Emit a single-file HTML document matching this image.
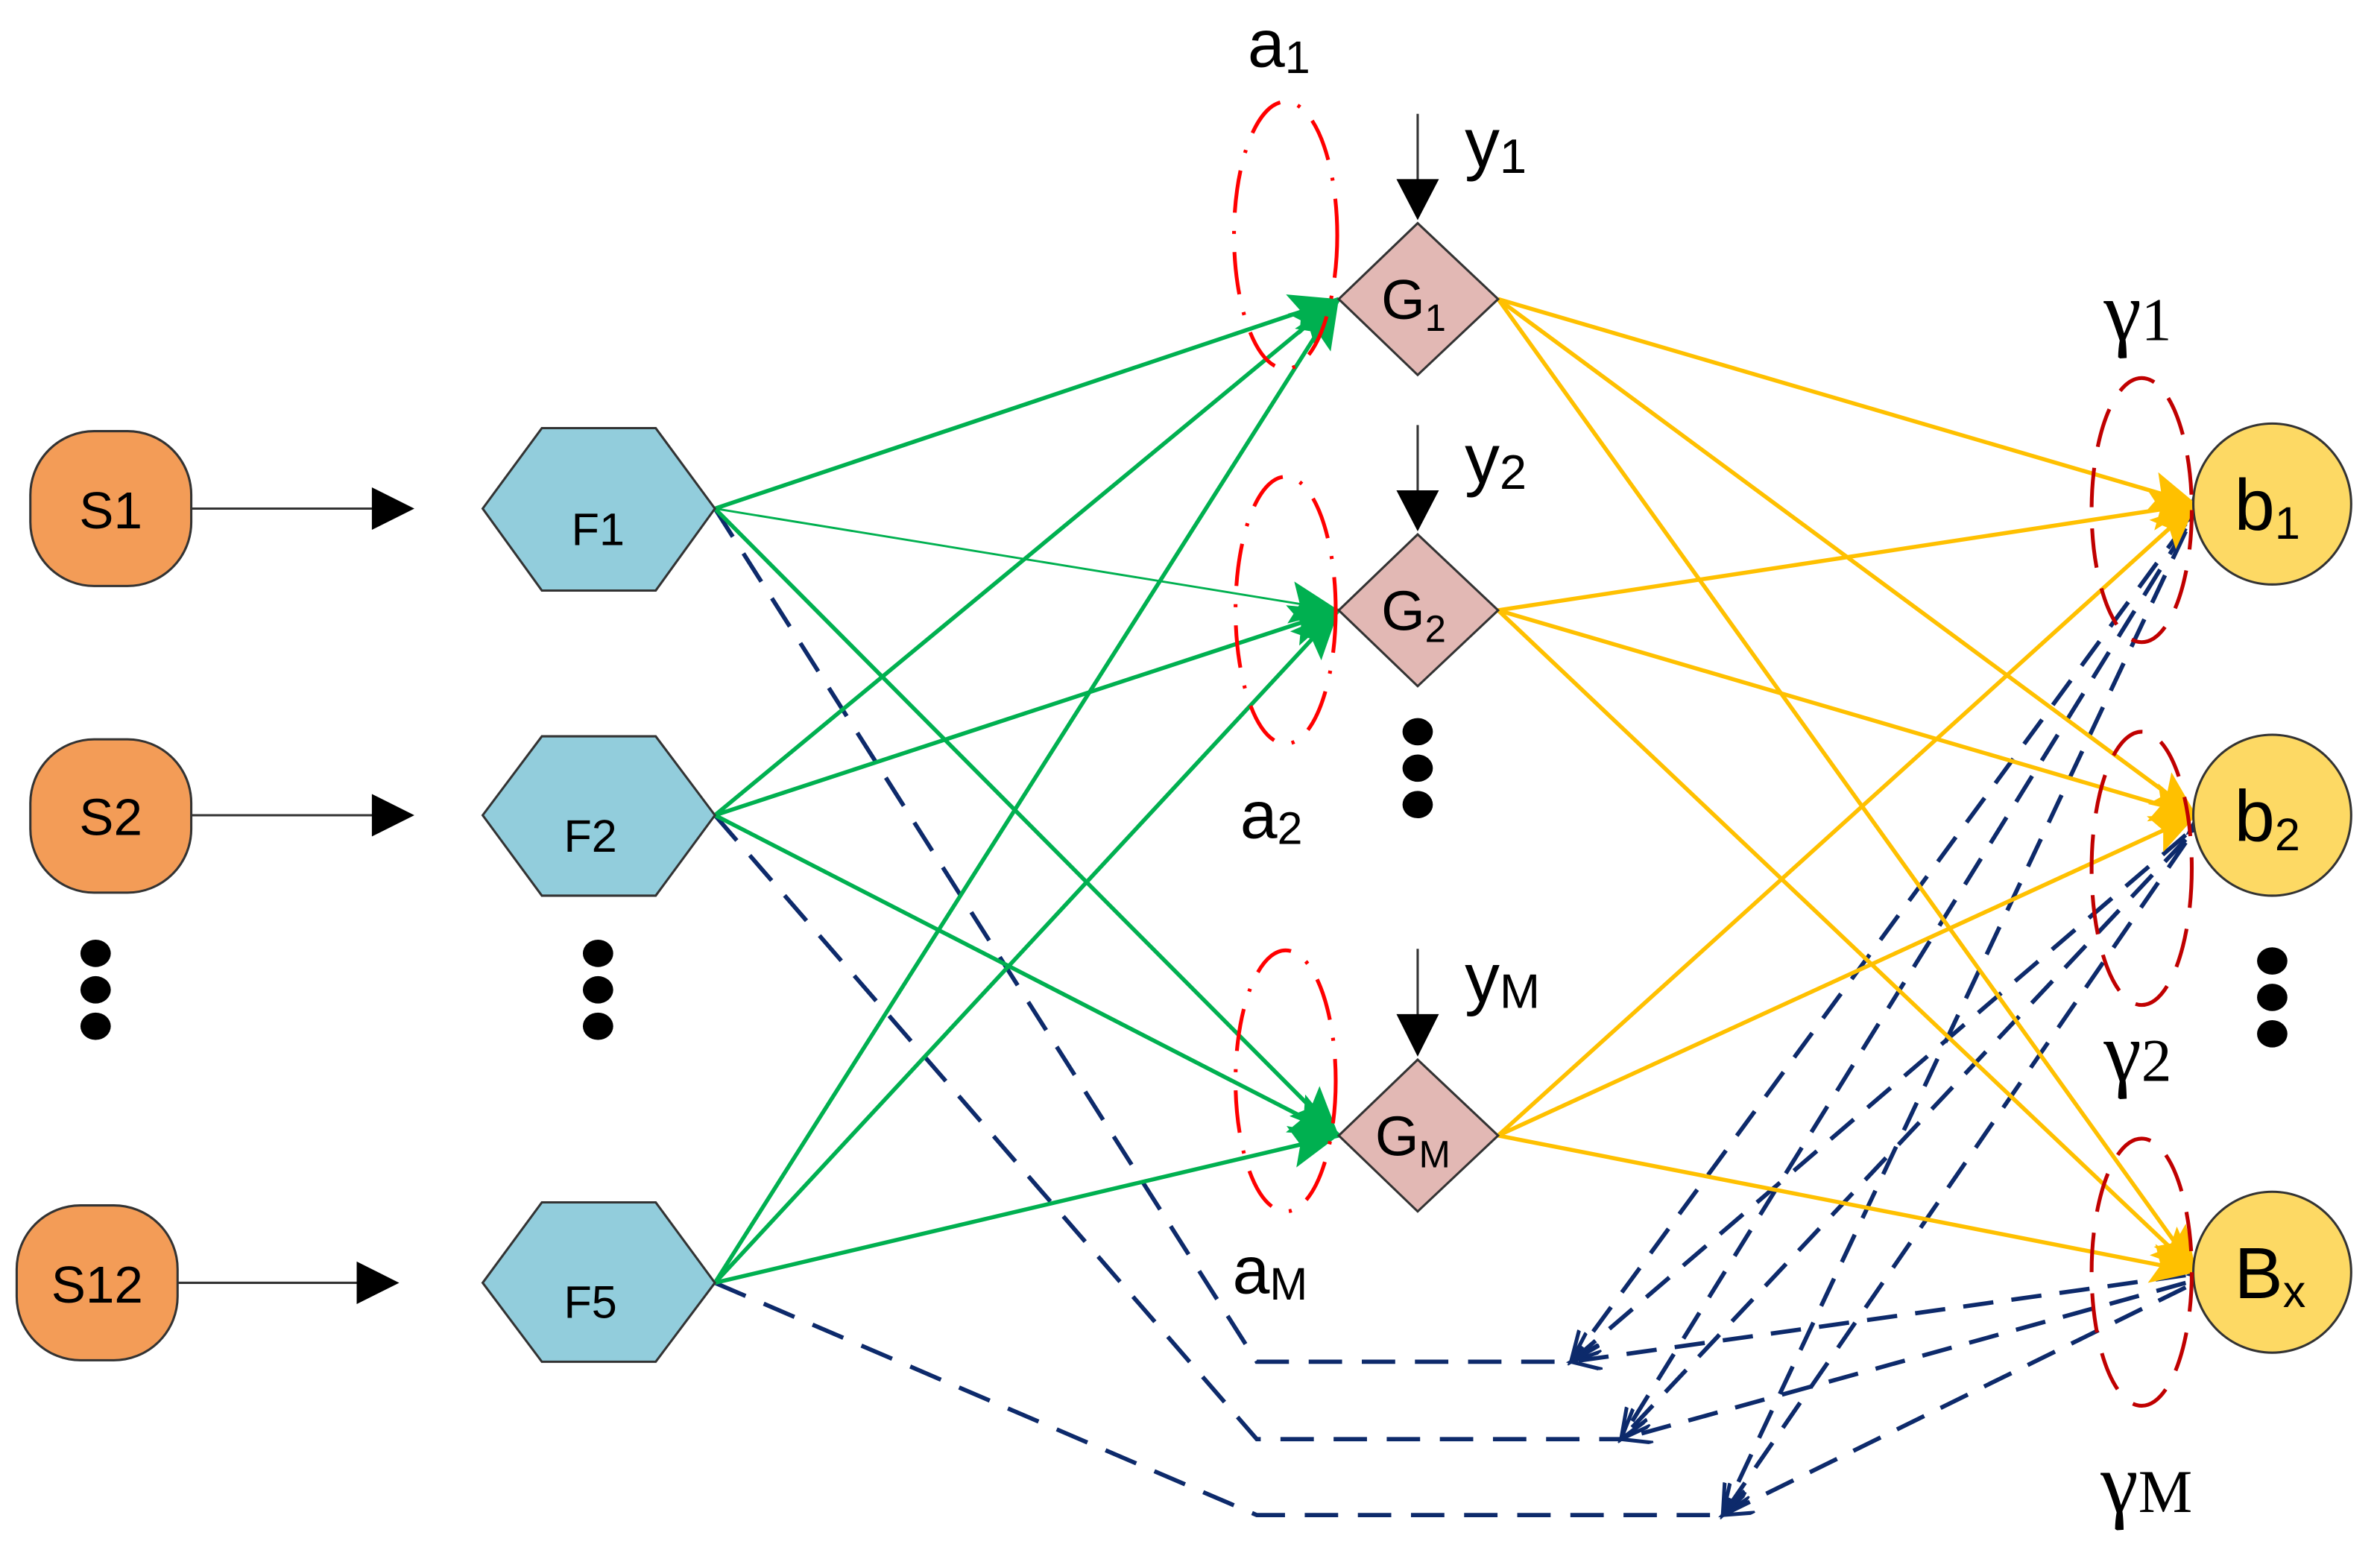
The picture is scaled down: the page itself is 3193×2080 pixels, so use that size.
<!DOCTYPE html>
<html><head><meta charset="utf-8"><style>
html,body{margin:0;padding:0;background:#fff;}
svg{display:block;}
text{font-family:"Liberation Sans","DejaVu Sans",sans-serif;fill:#000;}
.tm{font-family:"Liberation Serif",serif;}
</style></head><body>
<svg width="3193" height="2080" viewBox="0 0 1568 1021" preserveAspectRatio="none" xmlns="http://www.w3.org/2000/svg">
<defs>
<marker id="ag" markerUnits="userSpaceOnUse" markerWidth="40" markerHeight="40" refX="32" refY="14" orient="auto"><path d="M0,0 L32,14 L0,28 L6,14 Z" fill="#00b050"/></marker>
<marker id="ay" markerUnits="userSpaceOnUse" markerWidth="40" markerHeight="40" refX="30" refY="13" orient="auto"><path d="M0,0 L30,13 L0,26 L6,13 Z" fill="#ffc000"/></marker>
<marker id="an" markerUnits="userSpaceOnUse" markerWidth="30" markerHeight="30" refX="22" refY="9" orient="auto"><path d="M0,0 L22,9 L0,18 Z" fill="#0d2a6b"/></marker>
<marker id="av" markerUnits="userSpaceOnUse" markerWidth="30" markerHeight="30" refX="20" refY="8" orient="auto"><path d="M0,0 L20,8 L0,16" fill="none" stroke="#0d2a6b" stroke-width="2.5"/></marker>
</defs>

<rect x="20" y="284" width="106" height="102" rx="42" fill="#f39c57" stroke="#333" stroke-width="1.5"/>
<rect x="20" y="487" width="106" height="101" rx="42" fill="#f39c57" stroke="#333" stroke-width="1.5"/>
<rect x="11" y="794" width="106" height="102" rx="42" fill="#f39c57" stroke="#333" stroke-width="1.5"/>
<text x="73" y="348" font-size="34" text-anchor="middle">S1</text>
<text x="73" y="550" font-size="34" text-anchor="middle">S2</text>
<text x="64" y="858" font-size="34" text-anchor="middle">S12</text>

<g stroke="#333" stroke-width="1.5">
<line x1="126" y1="335" x2="247" y2="335"/><line x1="126" y1="537" x2="247" y2="537"/><line x1="117" y1="845" x2="237" y2="845"/></g>
<path d="M245,321 L273,335 L245,349Z M245,523 L273,537 L245,551Z M235,831 L263,845 L235,859Z" fill="#000"/>

<g fill="#000">
<ellipse cx="63" cy="628" rx="10" ry="9"/><ellipse cx="63" cy="652" rx="10" ry="9"/><ellipse cx="63" cy="676" rx="10" ry="9"/>
<ellipse cx="394" cy="628" rx="10" ry="9"/><ellipse cx="394" cy="652" rx="10" ry="9"/><ellipse cx="394" cy="676" rx="10" ry="9"/>
<ellipse cx="934" cy="482" rx="10" ry="9"/><ellipse cx="934" cy="506" rx="10" ry="9"/><ellipse cx="934" cy="530" rx="10" ry="9"/>
<ellipse cx="1497" cy="633" rx="10" ry="9"/><ellipse cx="1497" cy="657" rx="10" ry="9"/><ellipse cx="1497" cy="681" rx="10" ry="9"/>
</g>

<g stroke="#0d2a6b" stroke-width="2.8" fill="none" stroke-dasharray="22,13">
<polyline points="471,335 828,897 1035,897"/>
<polyline points="471,537 828,948 1068,948"/>
<polyline points="471,845 828,998 1135,998"/>
</g>
<g stroke="#0d2a6b" stroke-width="2.8" fill="none" stroke-dasharray="20,12">
<line x1="1440" y1="345" x2="1035" y2="897" marker-start="url(#an)" marker-end="url(#av)"/>
<line x1="1440" y1="348" x2="1068" y2="948" marker-end="url(#av)"/>
<line x1="1440" y1="350" x2="1135" y2="998" marker-end="url(#av)"/>
<line x1="1440" y1="550" x2="1035" y2="897" marker-start="url(#an)" marker-end="url(#av)"/>
<line x1="1440" y1="553" x2="1068" y2="948" marker-end="url(#av)"/>
<line x1="1440" y1="555" x2="1135" y2="998" marker-end="url(#av)"/>
<line x1="1440" y1="840" x2="1035" y2="897" marker-start="url(#an)" marker-end="url(#av)"/>
<line x1="1440" y1="845" x2="1068" y2="948" marker-end="url(#av)"/>
<line x1="1440" y1="848" x2="1135" y2="998" marker-end="url(#av)"/>
</g>

<g stroke="#00b050" stroke-width="2.7" fill="none">
<line x1="471" y1="335" x2="882" y2="197" marker-end="url(#ag)"/>
<line x1="471" y1="335" x2="882" y2="402" stroke-width="1.4" marker-end="url(#ag)"/>
<line x1="471" y1="335" x2="882" y2="748" marker-end="url(#ag)"/>
<line x1="471" y1="537" x2="882" y2="197" marker-end="url(#ag)"/>
<line x1="471" y1="537" x2="882" y2="402" marker-end="url(#ag)"/>
<line x1="471" y1="537" x2="882" y2="748" marker-end="url(#ag)"/>
<line x1="471" y1="845" x2="882" y2="197" marker-end="url(#ag)"/>
<line x1="471" y1="845" x2="882" y2="402" marker-end="url(#ag)"/>
<line x1="471" y1="845" x2="882" y2="748" marker-end="url(#ag)"/>
</g>

<g stroke="#ffc000" stroke-width="2.7" fill="none">
<line x1="987" y1="197" x2="1447" y2="332" marker-end="url(#ay)"/>
<line x1="987" y1="197" x2="1447" y2="537" marker-end="url(#ay)"/>
<line x1="987" y1="197" x2="1447" y2="838" marker-end="url(#ay)"/>
<line x1="987" y1="402" x2="1447" y2="332" marker-end="url(#ay)"/>
<line x1="987" y1="402" x2="1447" y2="537" marker-end="url(#ay)"/>
<line x1="987" y1="402" x2="1447" y2="838" marker-end="url(#ay)"/>
<line x1="987" y1="748" x2="1447" y2="332" marker-end="url(#ay)"/>
<line x1="987" y1="748" x2="1447" y2="537" marker-end="url(#ay)"/>
<line x1="987" y1="748" x2="1447" y2="838" marker-end="url(#ay)"/>
</g>

<g fill="#92cddc" stroke="#333" stroke-width="1.5">
<polygon points="318,335 357,282 432,282 471,335 432,389 357,389"/>
<polygon points="318,537 357,485 432,485 471,537 432,590 357,590"/>
<polygon points="318,845 357,792 432,792 471,845 432,897 357,897"/>
</g>
<text x="394" y="359" font-size="30" text-anchor="middle">F1</text>
<text x="389" y="561" font-size="30" text-anchor="middle">F2</text>
<text x="389" y="868" font-size="30" text-anchor="middle">F5</text>

<g fill="#e2b8b4" stroke="#333" stroke-width="1.5">
<polygon points="934,147 987,197 934,247 882,197"/>
<polygon points="934,352 987,402 934,452 882,402"/>
<polygon points="934,698 987,748 934,798 882,748"/>
</g>
<text x="910" y="210" font-size="37">G<tspan font-size="25" dy="8">1</tspan></text>
<text x="910" y="415" font-size="37">G<tspan font-size="25" dy="8">2</tspan></text>
<text x="906" y="761" font-size="37">G<tspan font-size="25" dy="8">M</tspan></text>

<g stroke="#333" stroke-width="1.5"><line x1="934" y1="75" x2="934" y2="120"/><line x1="934" y1="280" x2="934" y2="325"/><line x1="934" y1="625" x2="934" y2="670"/></g>
<path d="M920,118 L948,118 L934,145Z M920,323 L948,323 L934,350Z M920,668 L948,668 L934,696Z" fill="#000"/>
<text x="965" y="110" font-size="46">y<tspan font-size="32" dy="4">1</tspan></text>
<text x="965" y="318" font-size="46">y<tspan font-size="32" dy="4">2</tspan></text>
<text x="965" y="660" font-size="46">y<tspan font-size="32" dy="4">M</tspan></text>

<g fill="none" stroke="#ff0000" stroke-width="2.5" stroke-dasharray="28,12,2,12">
<ellipse cx="847" cy="155" rx="34" ry="88"/>
<ellipse cx="847" cy="402" rx="33" ry="88"/>
<ellipse cx="847" cy="712" rx="33" ry="86"/>
</g>
<text x="822" y="44" font-size="44">a<tspan font-size="30" dy="4">1</tspan></text>
<text x="817" y="552" font-size="44">a<tspan font-size="30" dy="4">2</tspan></text>
<text x="812" y="852" font-size="44">a<tspan font-size="30" dy="4">M</tspan></text>

<g fill="#fdd964" stroke="#333" stroke-width="1.5">
<ellipse cx="1497" cy="332" rx="52" ry="53"/>
<ellipse cx="1497" cy="537" rx="52" ry="53"/>
<ellipse cx="1497" cy="838" rx="52" ry="53"/>
</g>
<text x="1472" y="349" font-size="48">b<tspan font-size="30" dy="6">1</tspan></text>
<text x="1472" y="554" font-size="48">b<tspan font-size="30" dy="6">2</tspan></text>
<text x="1472" y="855" font-size="48">B<tspan font-size="30" dy="6">x</tspan></text>

<g fill="none" stroke="#c00000" stroke-width="2.5" stroke-dasharray="26,14">
<ellipse cx="1411" cy="336" rx="33" ry="87"/>
<ellipse cx="1411" cy="572" rx="33" ry="90"/>
<ellipse cx="1411" cy="838" rx="33" ry="88"/>
</g>
<text class="tm" x="1386" y="224" font-size="56">γ<tspan font-size="40">1</tspan></text>
<text class="tm" x="1386" y="712" font-size="56">γ<tspan font-size="40">2</tspan></text>
<text class="tm" x="1384" y="996" font-size="56">γ<tspan font-size="40">M</tspan></text>
</svg>
</body></html>
